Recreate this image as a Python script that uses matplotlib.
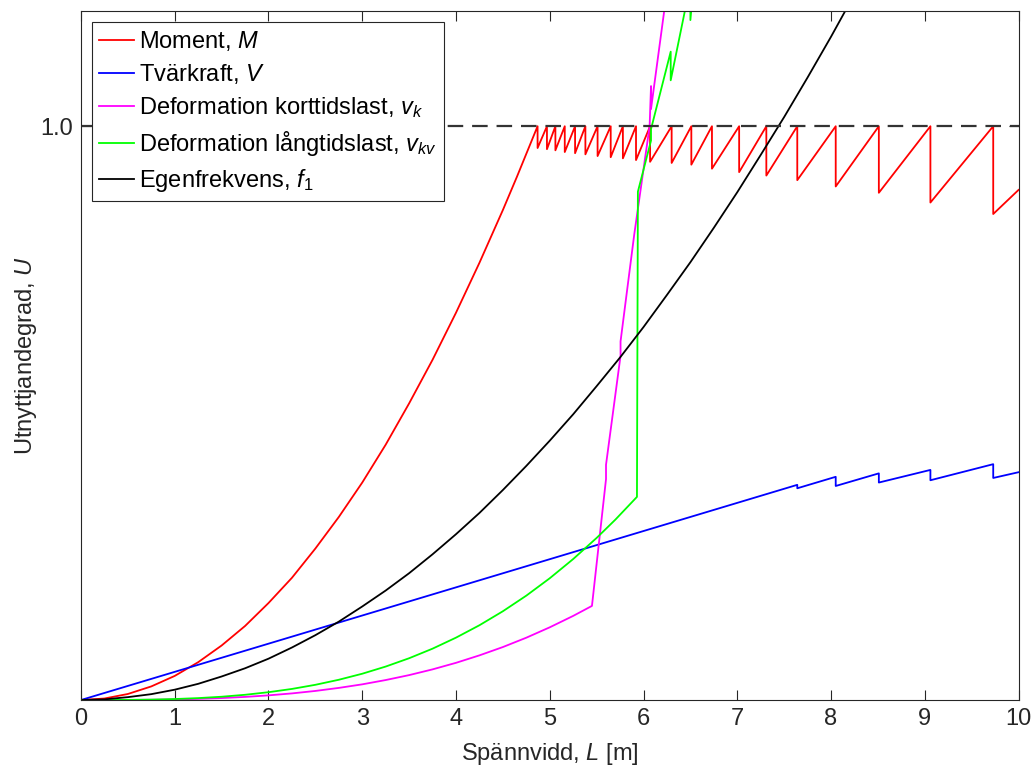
import matplotlib
matplotlib.use('Agg')
import matplotlib.pyplot as plt

plt.rcParams['font.family'] = ['Liberation Sans', 'DejaVu Sans']
plt.rcParams['mathtext.fontset'] = 'custom'
plt.rcParams['mathtext.rm'] = 'Liberation Sans'
plt.rcParams['mathtext.it'] = 'Liberation Sans:italic'

# Moment: rising part up to first full utilisation
moment_L = [0, 0.25, 0.5, 0.75, 1.0, 1.25, 1.5, 1.75, 2.0, 2.25, 2.5, 2.75,
            3.0, 3.25, 3.5, 3.75, 4.0, 4.25, 4.5, 4.65]
moment_U = [0, 0.0026, 0.0105, 0.0237, 0.042, 0.0659, 0.095, 0.129, 0.169, 0.213,
            0.264, 0.319, 0.379, 0.445, 0.517, 0.593, 0.675, 0.762, 0.854, 0.912]
# spans where the section steps up (U hits 1.0 then drops)
moment_step_L = [4.87, 4.97, 5.06, 5.16, 5.27, 5.38, 5.51, 5.65, 5.78, 5.92, 6.07,
                 6.30, 6.51, 6.73, 7.02, 7.31, 7.64, 8.05, 8.51, 9.06, 9.73]
moment_step_U = [0.962, 0.960, 0.958, 0.955, 0.953, 0.951, 0.948, 0.946, 0.944, 0.941,
                 0.938, 0.936, 0.933, 0.926, 0.920, 0.914, 0.906, 0.895, 0.884, 0.867, 0.847]
moment_end_U = 0.889

# Tvärkraft
shear_L = [0, 7.64, 7.64, 8.05, 8.05, 8.51, 8.51, 9.06, 9.06, 9.73, 9.73, 10]
shear_U = [0, 0.375, 0.369, 0.389, 0.373, 0.395, 0.379, 0.401, 0.383, 0.411, 0.387, 0.397]

# Deformation korttidslast
vk_L = [0, 0.5, 0.75, 1.0, 1.25, 1.5, 1.75, 2.0, 2.25, 2.5, 2.75, 3.0, 3.25, 3.5,
        3.75, 4.0, 4.25, 4.5, 4.75, 5.0, 5.25, 5.45,
        5.60, 5.60, 5.755, 5.755, 5.90, 6.065, 6.08, 6.08, 6.22]
vk_U = [0, 0.0001, 0.0004, 0.001, 0.002, 0.0034, 0.0054, 0.0081, 0.0115, 0.0158, 0.0211,
        0.0273, 0.0348, 0.0434, 0.0534, 0.0648, 0.0778, 0.0923, 0.1086, 0.1267, 0.1466, 0.164,
        0.385, 0.41, 0.60, 0.625, 0.81, 1.0, 1.07, 1.03, 1.2]

# Deformation långtidslast
vkv_L = [0, 0.5, 0.75, 1.0, 1.25, 1.5, 1.75, 2.0, 2.25, 2.5, 2.75, 3.0, 3.25, 3.5,
         3.75, 4.0, 4.25, 4.5, 4.75, 5.0, 5.25, 5.5, 5.7, 5.93,
         5.94, 6.08, 6.08, 6.29, 6.29, 6.44, 6.50, 6.50, 6.53]
vkv_U = [0, 0.0002, 0.0007, 0.0017, 0.0033, 0.0057, 0.0091, 0.0136, 0.0193, 0.0265, 0.0353,
         0.0458, 0.0583, 0.0728, 0.0895, 0.1087, 0.1303, 0.1547, 0.1819, 0.2122, 0.2457,
         0.2825, 0.3144, 0.354,
         0.886, 0.975, 0.995, 1.13, 1.08, 1.2, 1.24, 1.185, 1.24]

# Egenfrekvens
f1_L = [0, 0.25, 0.5, 0.75, 1.0, 1.25, 1.5, 1.75, 2.0, 2.25, 2.5, 2.75, 3.0, 3.25,
        3.5, 3.75, 4.0, 4.25, 4.5, 4.75, 5.0, 5.25, 5.5, 5.75, 6.0, 6.25, 6.5, 6.75,
        7.0, 7.25, 7.5, 7.75, 8.0, 8.25]
f1_U = [0, 0.0011, 0.005, 0.0102, 0.018, 0.0282, 0.041, 0.0553, 0.072, 0.0915, 0.113,
        0.1366, 0.163, 0.1908, 0.221, 0.254, 0.289, 0.326, 0.366, 0.408, 0.452, 0.498,
        0.547, 0.597, 0.650, 0.706, 0.763, 0.823, 0.885, 0.950, 1.016, 1.085, 1.156, 1.23]

x_ticks = [0, 1, 2, 3, 4, 5, 6, 7, 8, 9, 10]

# sawtooth for the moment curve
mx = list(moment_L)
my = list(moment_U)
for L, u in zip(moment_step_L, moment_step_U):
    mx += [L, L]
    my += [1.0, u]
mx.append(10)
my.append(moment_end_U)

fig = plt.figure(figsize=(10.33, 7.70), dpi=100)
ax = fig.add_axes([0.0784, 0.0909, 0.9076, 0.8942])

lw = 1.3
ax.plot(mx, my, color='#ff0000', lw=lw, label='Moment, $M$')
ax.plot(shear_L, shear_U, color='#0000ff', lw=lw, label='Tvärkraft, $V$')
ax.plot(vk_L, vk_U, color='#ff00ff', lw=lw, label='Deformation korttidslast, $v_k$')
ax.plot(vkv_L, vkv_U, color='#00ff00', lw=lw, label='Deformation långtidslast, $v_{kv}$')
ax.plot(f1_L, f1_U, color='black', lw=lw, label=r'Egenfrekvens, $f_{\mathit{1}}$')
ax.axhline(1.0, color='#333333', lw=1.6, ls=(0, (7, 4)))

ax.set_xlim(0, 10)
ax.set_ylim(0, 1.2)
ax.set_xticks(x_ticks)
ax.set_yticks([1.0])
ax.set_yticklabels(['1.0'])
ax.tick_params(direction='in', length=7, width=0.8, top=True, right=True,
               labelsize=17, colors='#262626', pad=6)
for s in ax.spines.values():
    s.set_color('#262626')
    s.set_linewidth(0.8)

ax.set_xlabel('Spännvidd, $L$ [m]', fontsize=17, color='#262626', labelpad=8)
ax.set_ylabel('Utnyttjandegrad, $U$', fontsize=17, color='#262626', labelpad=1)

leg = ax.legend(loc='upper left', fontsize=17, frameon=True, fancybox=False,
                edgecolor='#262626', framealpha=1, handlelength=1.5,
                handletextpad=0.2, labelspacing=0.38, borderaxespad=0.45,
                borderpad=0.3)
leg.get_frame().set_linewidth(0.8)

fig.savefig('out.png', dpi=100)
